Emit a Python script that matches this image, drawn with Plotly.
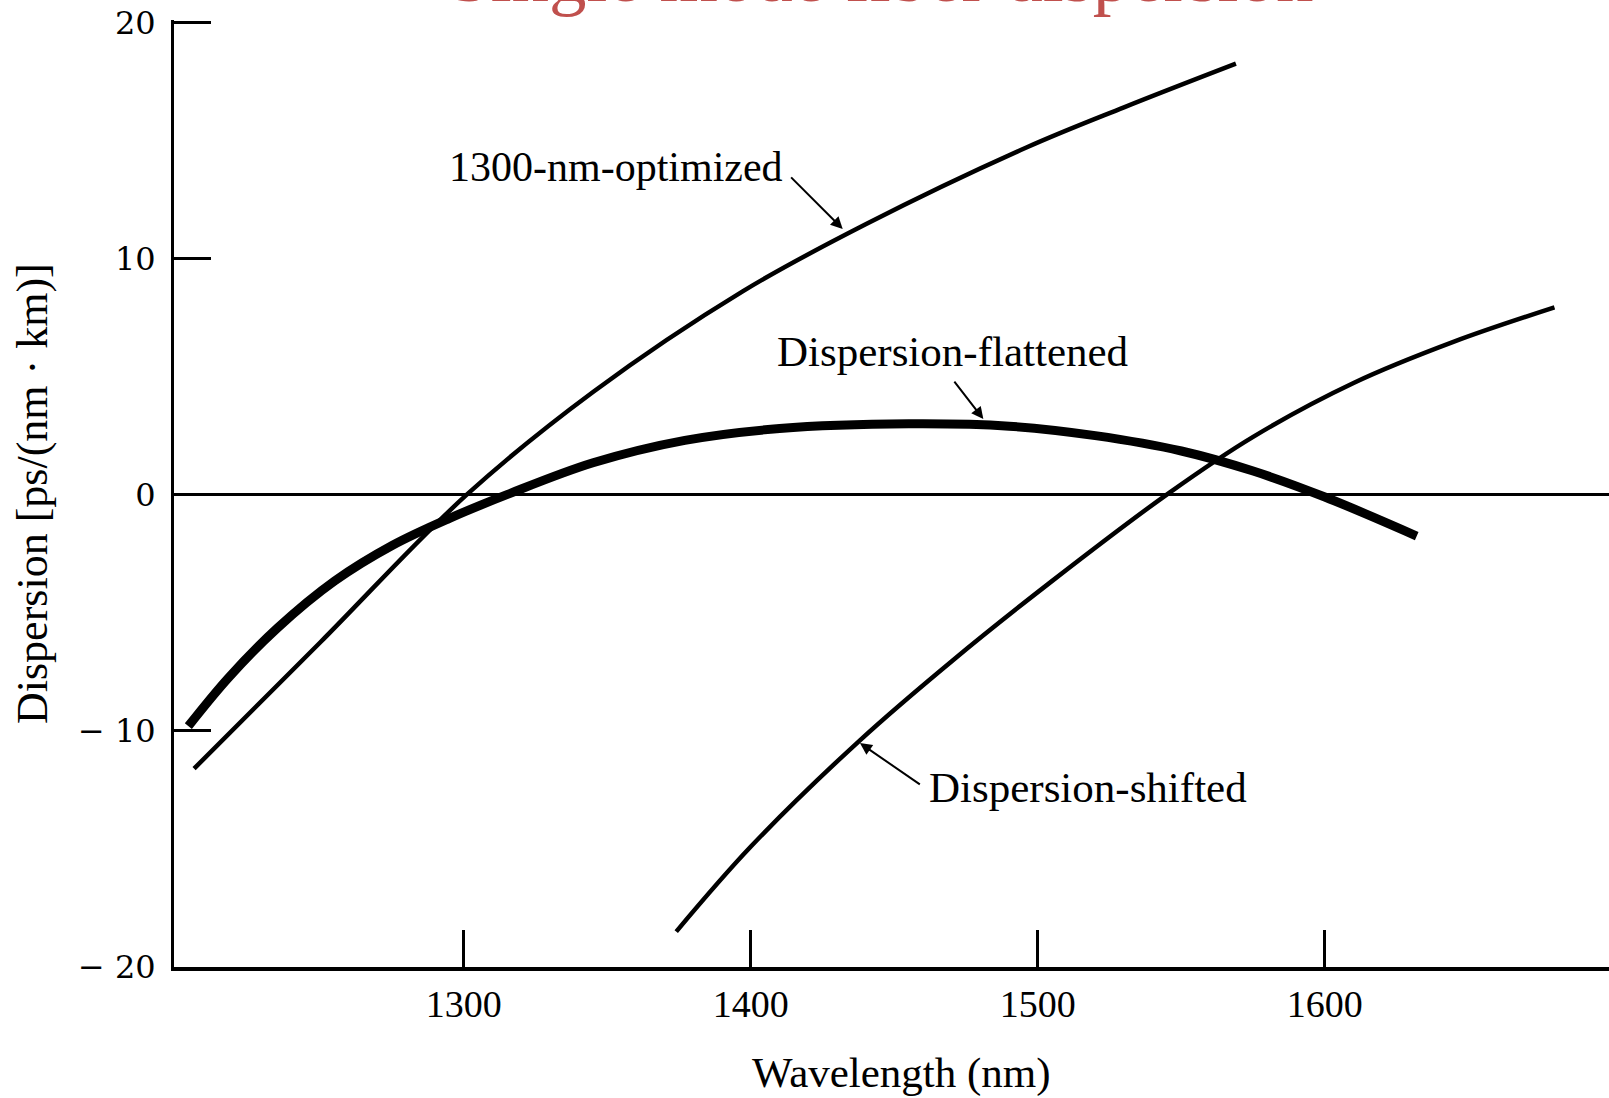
import plotly.graph_objects as go

# Wavelength (nm) and dispersion ps/(nm*km)
opt_x = [1206, 1250, 1301, 1345, 1397, 1440, 1496, 1530, 1569]
opt_y = [-11.6, -6.25, 0.0, 4.35, 8.6, 11.45, 14.7, 16.4, 18.25]

flat_x = [1204, 1218, 1235, 1255, 1275, 1295, 1315, 1345, 1377, 1410, 1455, 1490, 1520, 1550, 1575, 1600, 1632]
flat_y = [-9.8, -7.75, -5.65, -3.65, -2.15, -1.0, 0.0, 1.35, 2.3, 2.8, 3.0, 2.9, 2.5, 1.85, 1.0, -0.1, -1.75]

shift_x = [1374, 1400, 1438, 1470, 1505, 1546, 1575, 1610, 1645, 1680]
shift_y = [-18.5, -14.9, -10.4, -7.05, -3.65, 0.1, 2.45, 4.73, 6.48, 7.93]

x_ticks = [1300, 1400, 1500, 1600]
y_ticks = [-20, -10, 0, 10, 20]
y_tick_text = ["\u2212 20", "\u2212 10", "0", "10", "20"]

title_text = "Single mode fiber dispersion"
x_title = "Wavelength (nm)"
y_title = "Dispersion [ps/(nm \u00b7 km)]"

labels = ["1300-nm-optimized", "Dispersion-flattened", "Dispersion-shifted"]

W, H = 1609, 1098
L, R, T, B = 174, 0, 20, 131
pw, ph = W - L - R, H - T - B


def px(xp):
    return (xp - L) / pw


def py(yp):
    return (H - B - yp) / ph


SERIF = "Liberation Serif, Times New Roman, serif"

fig = go.Figure()
fig.add_trace(go.Scatter(x=opt_x, y=opt_y, mode="lines", line=dict(color="black", width=4.5, shape="spline"),
                         showlegend=False, hoverinfo="skip"))
fig.add_trace(go.Scatter(x=flat_x, y=flat_y, mode="lines", line=dict(color="black", width=9, shape="spline"),
                         showlegend=False, hoverinfo="skip"))
fig.add_trace(go.Scatter(x=shift_x, y=shift_y, mode="lines", line=dict(color="black", width=4.5, shape="spline"),
                         showlegend=False, hoverinfo="skip"))

ann = []
# curve labels
ann.append(dict(x=1412, y=13.86, xref="x", yref="y", text=labels[0], showarrow=False,
                xanchor="right", yanchor="middle", font=dict(family=SERIF, size=42, color="black")))
ann.append(dict(x=1408.5, y=6.05, xref="x", yref="y", text=labels[1], showarrow=False,
                xanchor="left", yanchor="middle", font=dict(family=SERIF, size=43, color="black")))
ann.append(dict(x=1461.5, y=-12.4, xref="x", yref="y", text=labels[2], showarrow=False,
                xanchor="left", yanchor="middle", font=dict(family=SERIF, size=43, color="black")))
# arrows
for (tx, ty, hx, hy) in [(1413.5, 13.5, 1432, 11.25), (1470.5, 4.85, 1481, 3.2), (1459.4, -12.31, 1438, -10.52)]:
    ann.append(dict(x=hx, y=hy, ax=tx, ay=ty, xref="x", yref="y", axref="x", ayref="y", text="",
                    showarrow=True, arrowhead=2, arrowsize=1.2, arrowwidth=2, arrowcolor="black", standoff=0))
# title (clipped at top of page)
ann.append(dict(x=px(881), y=py(19), xref="paper", yref="paper", text=title_text, showarrow=False,
                xanchor="center", yanchor="bottom", font=dict(family=SERIF, size=75, color="#C0504D")))
# axis titles
ann.append(dict(x=px(901), y=py(1073), xref="paper", yref="paper", text=x_title, showarrow=False,
                xanchor="center", yanchor="middle", font=dict(family=SERIF, size=43, color="black")))
ann.append(dict(x=px(33), y=py(494), xref="paper", yref="paper", text=y_title, showarrow=False,
                textangle=-90, xanchor="center", yanchor="middle", font=dict(family=SERIF, size=44, color="black")))

fig.update_layout(
    width=W, height=H,
    margin=dict(l=L, r=R, t=T, b=B, pad=0),
    paper_bgcolor="white", plot_bgcolor="white",
    annotations=ann,
    showlegend=False,
)
fig.update_xaxes(range=[1199, 1699], tickvals=x_ticks, ticks="inside", ticklen=37, tickwidth=2.5,
                 tickcolor="black", showline=True, linecolor="black", linewidth=4, showgrid=False,
                 zeroline=False, tickfont=dict(family=SERIF, size=38, color="black"), ticklabelstandoff=0)
fig.update_yaxes(range=[-20.0, 20.1], tickvals=y_ticks, ticktext=y_tick_text, ticks="inside", ticklen=37,
                 tickwidth=2.5, tickcolor="black", showline=True, linecolor="black", linewidth=3,
                 showgrid=False, zeroline=True, zerolinecolor="black", zerolinewidth=2.5,
                 tickfont=dict(family="DejaVu Serif", size=32, color="black"), ticklabelstandoff=9)

fig.write_html("out.html", config={"displayModeBar": False},
               post_script="document.body.style.margin='0px';")
